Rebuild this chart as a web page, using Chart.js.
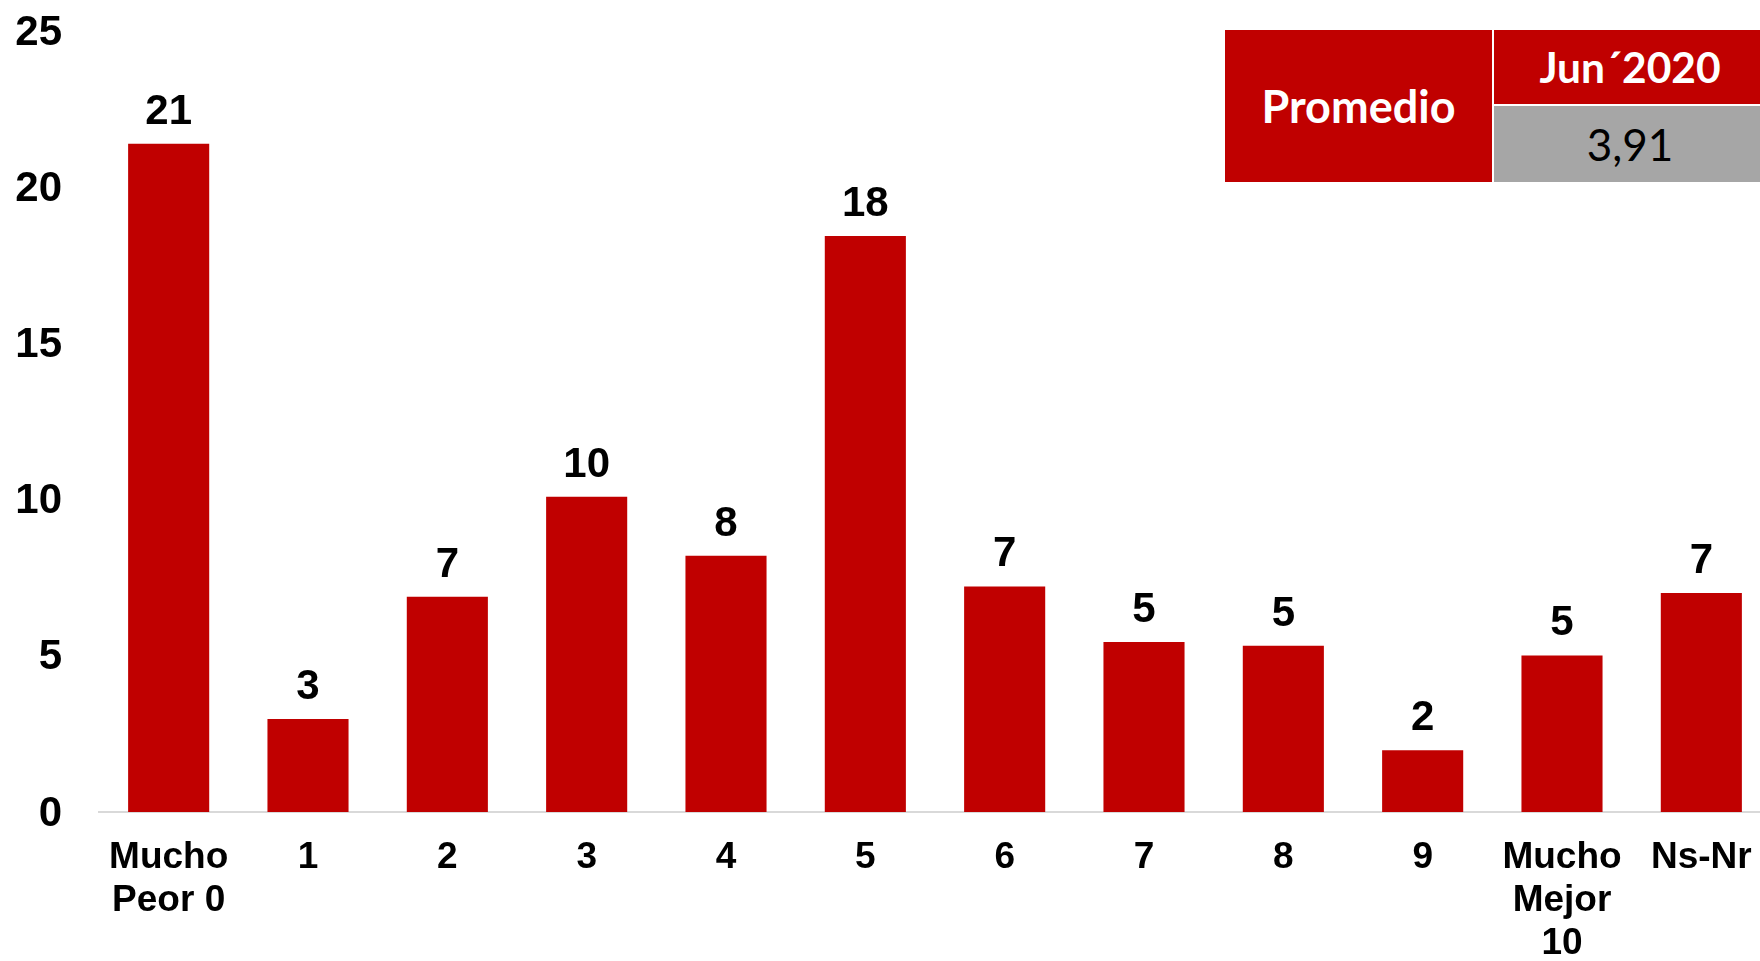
<!DOCTYPE html>
<html>
<head>
<meta charset="utf-8">
<script src="https://cdn.jsdelivr.net/npm/chart.js@4.4.1/dist/chart.umd.min.js"></script>
<style>
  html, body { margin: 0; padding: 0; background: #ffffff; overflow: hidden; }
  #wrap { position: relative; width: 1771px; height: 961px; }
  #c { position: absolute; left: 0; top: 0; }
  .cell { position: absolute; display: flex; align-items: center; justify-content: center;
          font-family: Lato, "Open Sans", sans-serif; line-height: 1; }
  .red { background: #C00000; color: #ffffff; font-weight: 700; }
  .grey { background: #A6A6A6; color: #000000; font-weight: 400; }
</style>
</head>
<body>
<div id="wrap">
  <canvas id="c" width="1771" height="961"></canvas>
  <div class="cell red" style="left:1225px; top:30px; width:267px; height:152px; font-size:45px;"><span id="tblLabel"></span></div>
  <div class="cell red" style="left:1494px; top:30px; width:272px; height:74px; font-size:42.5px;"><span id="tblPeriod"></span></div>
  <div class="cell grey" style="left:1494px; top:106px; width:272px; height:76px; font-size:44px;"><span id="tblValue"></span></div>
</div>
<script>
// ---- data ----
const categories = [["Mucho", "Peor 0"], "1", "2", "3", "4", "5", "6", "7", "8", "9", ["Mucho", "Mejor", "10"], "Ns-Nr"];
const values = [21.39, 2.98, 6.89, 10.09, 8.20, 18.44, 7.22, 5.44, 5.32, 1.98, 5.01, 7.01];
const yTickValues = [0, 5, 10, 15, 20, 25];
const tableLabel = "Promedio";
const tablePeriod = "Jun\u00B42020";
const tableValue = "3,91";

document.getElementById('tblLabel').textContent = tableLabel;
document.getElementById('tblPeriod').textContent = tablePeriod;
document.getElementById('tblValue').textContent = tableValue;

const FONT = "'Liberation Sans', Arial, sans-serif";

const valueLabels = {
  id: 'valueLabels',
  afterDatasetsDraw(chart) {
    const ctx = chart.ctx;
    const meta = chart.getDatasetMeta(0);
    ctx.save();
    ctx.font = "bold 42px " + FONT;
    ctx.fillStyle = '#000000';
    ctx.textAlign = 'center';
    ctx.textBaseline = 'alphabetic';
    meta.data.forEach((bar, i) => {
      ctx.fillText(String(Math.round(values[i])), bar.x, bar.y - 20);
    });
    ctx.restore();
  }
};

new Chart(document.getElementById('c'), {
  type: 'bar',
  data: {
    labels: categories,
    datasets: [{
      data: values,
      backgroundColor: '#C00000',
      borderWidth: 0,
      barPercentage: 0.582,
      categoryPercentage: 1.0
    }]
  },
  options: {
    responsive: false,
    animation: false,
    layout: { autoPadding: false, padding: { top: 31, left: 0, right: 0, bottom: 0 } },
    plugins: { legend: { display: false }, tooltip: { enabled: false }, title: { display: false } },
    scales: {
      x: {
        grid: { display: false, drawTicks: false },
        border: { display: true, color: '#D9D9D9', width: 2 },
        ticks: {
          color: '#000000',
          font: { family: FONT, size: 37, weight: 'bold', lineHeight: 1.15 },
          padding: 25,
          maxRotation: 0,
          autoSkip: false
        },
        afterFit(scale) { scale.height = 149; scale.paddingLeft = 0; scale.paddingRight = 0; }
      },
      y: {
        min: 0,
        max: 25,
        afterBuildTicks(scale) { scale.ticks = yTickValues.map(v => ({ value: v })); },
        grid: { display: false, drawTicks: false },
        border: { display: false },
        ticks: {
          color: '#000000',
          font: { family: FONT, size: 42, weight: 'bold' },
          padding: 37,
          labelOffset: 2
        },
        afterFit(scale) { scale.width = 99; scale.paddingTop = 0; scale.paddingBottom = 0; }
      }
    }
  },
  plugins: [valueLabels]
});
</script>
</body>
</html>
